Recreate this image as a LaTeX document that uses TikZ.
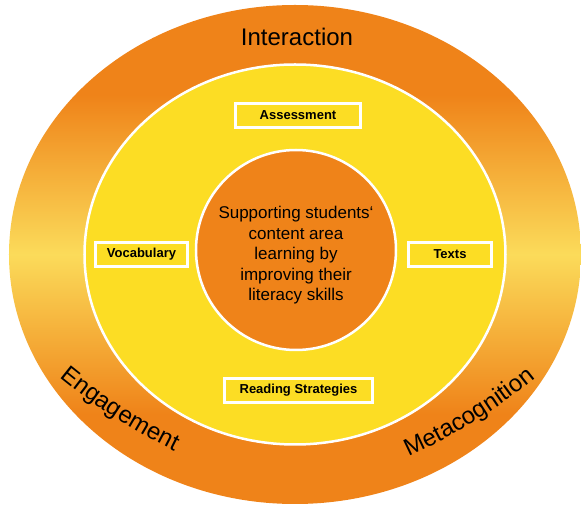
\documentclass[tikz,border=0pt]{standalone}
\usepackage{fontspec}
\setmainfont{Liberation Sans}
\usetikzlibrary{positioning, shapes.geometric, decorations.text}
\definecolor{ringorange}{HTML}{EF8319}
\definecolor{ringlight}{HTML}{FBDB5A}
\definecolor{fieldyellow}{HTML}{FCDD24}
\pgfdeclareverticalshading{ringshade}{100bp}{color(0bp)=(ringorange); color(34bp)=(ringorange); color(50bp)=(ringlight); color(66bp)=(ringorange); color(100bp)=(ringorange)}
\newcommand{\themefont}{\fontsize{24}{28}\selectfont}
\tikzstyle{ring}  = [ellipse, shade, shading=ringshade, inner sep=0pt, minimum width=572pt, minimum height=499pt]
\tikzstyle{field} = [ellipse, draw=white, line width=2.5pt, fill=fieldyellow, inner sep=0pt, minimum width=421pt, minimum height=380pt]
\tikzstyle{core}  = [circle, draw=white, line width=2.5pt, fill=ringorange, inner sep=0pt, minimum size=200pt]
\tikzstyle{tag}   = [rectangle, draw=white, line width=3pt, fill=fieldyellow, inner sep=0pt, minimum height=24pt, font=\bfseries\fontsize{13}{15}\selectfont]
\tikzstyle{theme} = [font=\themefont]

\begin{document}
\begin{tikzpicture}[x=1pt, y=1pt]
    \useasboundingbox (-295,-250.5) rectangle (286,254.5);

    % outer ring and inner field
    \node [ring] (ring) at (0,0) {};
    \node [field] (field) at (0,0) {};

    % centre circle
    \node [core] (core) at (1,4.5) {};
    \node [align=center, font=\fontsize{17}{20.5}\selectfont] (goal) at (1,-1)
        {Supporting students‘\\ content area\\ learning by\\ improving their\\ literacy skills};

    % four labels inside the field
    \node [tag, minimum width=124pt] (assess) at (3,139) {Assessment};
    \node [tag, minimum width=92pt] (vocab) at (-153.5,0) {Vocabulary};
    \node [tag, minimum width=83pt] (texts) at (155,0) {Texts};
    \node [tag, minimum width=148pt] (reading) at (3.5,-136) {Reading Strategies};

    % themes on the outer ring
    \node [theme] (interact) at (2,218) {Interaction};
    \path [decorate, decoration={text along path, text align=center, text={|\themefont|Engagement}}]
        (-180,-163) ++(57.2:600pt) ++(-137.8:600pt) arc[start angle=-137.8, end angle=-107.8, radius=600pt];
    \path [decorate, decoration={text along path, text align=center, text={|\themefont|Metacognition}}]
        (179.4,-167.1) ++(121.6:600pt) ++(-73.4:600pt) arc[start angle=-73.4, end angle=-43.4, radius=600pt];
\end{tikzpicture}
\end{document}
